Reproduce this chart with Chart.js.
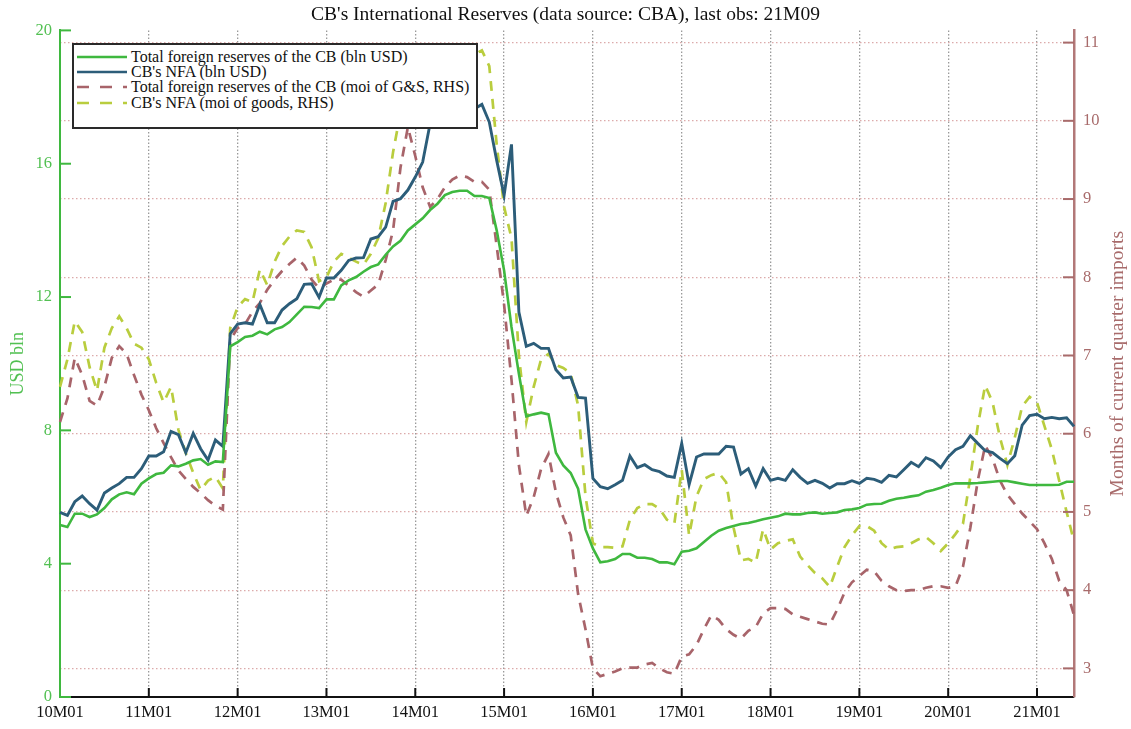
<!DOCTYPE html>
<html lang="en">
<head>
  <meta charset="UTF-8">
  <title>CB's International Reserves</title>
  <script src="https://cdn.jsdelivr.net/npm/chart.js"></script>
  <style>
    html, body { margin: 0; padding: 0; background: #fff; }
    #wrap { position: relative; width: 1131px; height: 729px; }
    #legend {
      position: absolute; left: 72px; top: 43px;
      width: 402px; height: 78px; padding-top: 4px;
      border: 2px solid #2a2a2a; background: #fff;
      font-family: 'Liberation Serif', 'Times New Roman', serif;
      font-size: 16px; color: #111;
    }
    .row { display: flex; align-items: center; height: 15.4px; white-space: nowrap; }
    .row svg { margin-left: 3px; margin-right: 4px; flex: none; }
  </style>
</head>
<body>
<div id="wrap">
  <canvas id="reservesChart" width="1131" height="729"></canvas>
  <div id="legend"></div>
</div>

<script>
  // monthly data, 10M01 .. 21M06
  const years = ['10', '11', '12', '13', '14', '15', '16', '17', '18', '19', '20', '21'];
  const monthNums = ['01', '02', '03', '04', '05', '06', '07', '08', '09', '10', '11', '12'];
  const months = years.flatMap(y => monthNums.map(m => y + 'M' + m)).slice(0, 138);

  const leftTicks = [0, 4, 8, 12, 16, 20];
  const rightTicks = [3, 4, 5, 6, 7, 8, 9, 10, 11];

  // Total foreign reserves of the CB, bln USD
  const reservesUsd = [
    5.16, 5.1, 5.5, 5.5, 5.4, 5.48, 5.67, 5.93, 6.08, 6.14, 6.08, 6.4,
    6.56, 6.69, 6.73, 6.95, 6.92, 7.0, 7.1, 7.14, 6.97, 7.07, 7.05, 10.52,
    10.65, 10.8, 10.84, 10.96, 10.88, 11.03, 11.1, 11.25, 11.48, 11.71, 11.7, 11.67,
    11.93, 11.93, 12.35, 12.5, 12.6, 12.76, 12.9, 12.98, 13.27, 13.52, 13.69, 14.0,
    14.18, 14.36, 14.61, 14.8, 15.06, 15.15, 15.19, 15.19, 15.03, 15.03, 14.97, 14.0,
    12.8, 11.1, 9.7, 8.42, 8.48, 8.53, 8.48, 7.33, 6.95, 6.72, 6.25, 5.03,
    4.46, 4.04, 4.07, 4.14, 4.29, 4.29, 4.18, 4.18, 4.14, 4.04, 4.04, 3.98,
    4.36, 4.39, 4.46, 4.65, 4.84, 4.99, 5.07, 5.13, 5.19, 5.22, 5.27, 5.33,
    5.38, 5.42, 5.5, 5.48, 5.48, 5.52, 5.54, 5.5, 5.52, 5.54, 5.61, 5.63,
    5.67, 5.77, 5.79, 5.8, 5.89, 5.95, 5.98, 6.02, 6.05, 6.16, 6.21, 6.28,
    6.36, 6.41, 6.41, 6.41, 6.42, 6.44, 6.46, 6.48, 6.48, 6.44, 6.4, 6.36,
    6.36, 6.36, 6.36, 6.37, 6.46, 6.46
  ];

  // CB's NFA, bln USD
  const nfaUsd = [
    5.54, 5.45, 5.86, 6.03, 5.8, 5.61, 6.12, 6.27, 6.4, 6.59, 6.59, 6.85,
    7.23, 7.23, 7.36, 7.97, 7.87, 7.33, 7.91, 7.45, 7.11, 7.71, 7.52, 10.9,
    11.19, 11.23, 11.19, 11.78, 11.23, 11.23, 11.61, 11.8, 11.95, 12.38, 12.4, 11.99,
    12.57, 12.57, 12.8, 13.1, 13.17, 13.18, 13.74, 13.81, 14.1, 14.87, 14.95, 15.21,
    15.6, 16.05, 17.2, 17.5, 17.75, 17.9, 17.9, 17.8, 17.65, 17.78, 17.25, 16.1,
    15.05, 16.58, 11.55, 10.52, 10.61, 10.46, 10.46, 9.82, 9.57, 9.6, 8.99, 8.97,
    6.56, 6.31, 6.25, 6.37, 6.5, 7.23, 6.88, 6.97, 6.82, 6.76, 6.63, 6.59,
    7.61, 6.37, 7.2, 7.29, 7.29, 7.29, 7.52, 7.5, 6.69, 6.85, 6.33, 6.85,
    6.5, 6.56, 6.5, 6.82, 6.59, 6.41, 6.5, 6.41, 6.27, 6.4, 6.4, 6.49,
    6.41, 6.56, 6.53, 6.44, 6.65, 6.6, 6.82, 7.04, 6.91, 7.18, 7.08, 6.88,
    7.2, 7.42, 7.52, 7.84, 7.61, 7.39, 7.33, 7.16, 7.0, 7.24, 8.16, 8.44,
    8.48, 8.35, 8.39, 8.35, 8.38, 8.12
  ];

  // Total foreign reserves of the CB, months of imports of G&S (RHS)
  const reservesMoi = [
    6.15, 6.45, 6.97, 6.75, 6.42, 6.36, 6.6, 6.97, 7.12, 7.02, 6.75, 6.5,
    6.3, 6.07, 5.88, 5.7, 5.53, 5.42, 5.32, 5.24, 5.15, 5.08, 5.03, 7.2,
    7.35, 7.4, 7.56, 7.67, 7.84, 7.97, 8.08, 8.17, 8.25, 8.15, 7.97, 7.86,
    7.92, 7.97, 7.97, 7.89, 7.81, 7.75, 7.83, 7.91, 8.22, 8.6, 9.4, 9.92,
    9.55, 9.15, 8.9, 9.0, 9.15, 9.25, 9.3, 9.28, 9.22, 9.22, 9.12, 8.4,
    7.65, 6.69, 5.6, 4.95, 5.19, 5.55, 5.74, 5.25, 4.93, 4.7, 3.95, 3.5,
    3.0, 2.9, 2.93, 2.96, 3.0, 3.01, 3.01, 3.05, 3.07, 3.0, 2.95, 2.93,
    3.15, 3.18, 3.3, 3.5, 3.68, 3.62, 3.5, 3.43, 3.38, 3.48, 3.53, 3.7,
    3.77, 3.77, 3.76, 3.69, 3.66, 3.63, 3.6, 3.57, 3.56, 3.75, 3.97, 4.1,
    4.18, 4.26, 4.24, 4.12, 4.05, 4.0, 3.99, 4.0, 4.0, 4.03, 4.05, 4.05,
    4.03, 4.05, 4.3, 4.8, 5.4, 5.85, 5.68, 5.4, 5.22, 5.1, 4.98, 4.88,
    4.78, 4.6, 4.4, 4.12, 4.0, 3.68
  ];

  // CB's NFA, months of imports of goods (RHS)
  const nfaMoi = [
    6.6, 6.95, 7.44, 7.3, 6.85, 6.55, 7.1, 7.35, 7.5, 7.35, 7.15, 7.1,
    6.95, 6.65, 6.4, 6.6, 6.05, 5.75, 5.5, 5.28, 5.4, 5.45, 5.3, 7.35,
    7.62, 7.72, 7.68, 8.1, 7.9, 8.2, 8.4, 8.52, 8.6, 8.58, 8.38, 7.95,
    8.0, 8.2, 8.3, 8.25, 8.2, 8.16, 8.3, 8.5, 8.95, 9.6, 10.1, 10.6,
    10.45, 10.25, 10.35, 10.55, 10.7, 10.8, 10.85, 10.85, 10.85, 10.9, 10.7, 9.7,
    8.9, 8.5, 7.0, 6.15, 6.6, 6.95, 7.02, 6.88, 6.84, 6.77, 6.36, 5.2,
    4.6, 4.55, 4.55, 4.54, 4.56, 4.9, 5.05, 5.1, 5.1, 5.04, 4.9, 4.85,
    5.54, 4.7, 5.2, 5.42, 5.47, 5.5, 5.38, 4.8, 4.38, 4.4, 4.35, 4.78,
    4.52, 4.6, 4.63, 4.65, 4.43, 4.32, 4.22, 4.15, 4.04, 4.3, 4.55, 4.7,
    4.82, 4.82, 4.76, 4.6, 4.52, 4.55, 4.56, 4.6, 4.65, 4.68, 4.6, 4.5,
    4.6, 4.72, 4.85, 5.45, 6.1, 6.62, 6.4, 5.95, 5.6, 5.95, 6.35, 6.47,
    6.4, 6.1, 5.8, 5.4, 5.0, 4.62
  ];

  const GREEN = '#3fb83f';
  const GREEN_TEXT = '#52c052';
  const BLUE = '#2c5d79';
  const RED = '#a8646a';
  const YELLOW = '#b9cd3e';
  const RHS = '#a86b6b';
  const serif = "'Liberation Serif', 'Times New Roman', serif";
  const isJan = i => months[i] && months[i].endsWith('M01');

  // tick marks drawn inside the plot box, plus the right axis title (reads upwards)
  const innerTicks = {
    id: 'innerTicks',
    afterDraw(chart) {
      const { ctx, chartArea: a, scales } = chart;
      const line = (x1, y1, x2, y2) => { ctx.beginPath(); ctx.moveTo(x1, y1); ctx.lineTo(x2, y2); ctx.stroke(); };
      ctx.save();
      ctx.lineWidth = 2;
      ctx.strokeStyle = GREEN;
      leftTicks.forEach(v => { const y = scales.y.getPixelForValue(v); line(a.left, y, a.left + 11, y); });
      ctx.strokeStyle = RHS;
      rightTicks.forEach(v => { const y = scales.y1.getPixelForValue(v); line(a.right - 11, y, a.right, y); });
      ctx.strokeStyle = '#111';
      months.forEach((m, i) => {
        if (!isJan(i) || i === 0) return;
        const x = scales.x.getPixelForValue(i);
        line(x, a.bottom, x, a.bottom - 9);
      });
      ctx.translate(1118, (a.top + a.bottom) / 2);
      ctx.rotate(-Math.PI / 2);
      ctx.fillStyle = RHS;
      ctx.font = '19.5px ' + serif;
      ctx.textAlign = 'center';
      ctx.textBaseline = 'middle';
      ctx.fillText('Months of current quarter imports', 0, 0);
      ctx.restore();
    }
  };

  const ctx = document.getElementById('reservesChart').getContext('2d');
  const chart = new Chart(ctx, {
    type: 'line',
    data: {
      labels: months,
      datasets: [
        { label: 'Total foreign reserves of the CB (bln USD)', data: reservesUsd, borderColor: GREEN, borderWidth: 2.6, yAxisID: 'y' },
        { label: "CB's NFA (bln USD)", data: nfaUsd, borderColor: BLUE, borderWidth: 2.9, yAxisID: 'y' },
        { label: 'Total foreign reserves of the CB (moi of G&S, RHS)', data: reservesMoi, borderColor: RED, borderWidth: 2.7, borderDash: [10, 8], yAxisID: 'y1' },
        { label: "CB's NFA (moi of goods, RHS)", data: nfaMoi, borderColor: YELLOW, borderWidth: 2.7, borderDash: [10, 8], yAxisID: 'y1' }
      ]
    },
    options: {
      responsive: false,
      animation: false,
      elements: { point: { radius: 0 }, line: { tension: 0 } },
      layout: { padding: 0 },
      plugins: {
        legend: { display: false },
        tooltip: { enabled: false },
        title: {
          display: true,
          text: "CB's International Reserves (data source: CBA), last obs: 21M09",
          color: '#111',
          font: { family: serif, size: 19.5, weight: 'normal' },
          padding: { top: 3, bottom: 4 }
        }
      },
      scales: {
        x: {
          offset: false,
          grid: {
            color: c => isJan(c.index) ? '#9a9a9a' : 'rgba(0,0,0,0)',
            lineWidth: 1.3,
            drawTicks: false
          },
          border: { color: '#111', width: 2, dash: [1.5, 2] },
          ticks: {
            autoSkip: false, maxRotation: 0, padding: 6, color: '#111',
            font: { family: serif, size: 16.5 },
            callback: (v, i) => isJan(i) ? months[i] : ''
          },
          afterFit: s => { s.height = 32; }
        },
        y: {
          position: 'left',
          min: 0, max: 20,
          afterBuildTicks: s => { s.ticks = leftTicks.map(v => ({ value: v })); },
          ticks: { color: GREEN_TEXT, padding: 8, font: { family: serif, size: 16.5 } },
          grid: { drawOnChartArea: false, drawTicks: false },
          border: { color: GREEN, width: 2 },
          title: { display: true, text: 'USD bln', color: GREEN_TEXT, font: { family: serif, size: 18 }, padding: { top: 7, bottom: 0 } },
          afterFit: s => { s.width = 60; }
        },
        y1: {
          position: 'right',
          min: 2.634, max: 11.156,
          afterBuildTicks: s => { s.ticks = rightTicks.map(v => ({ value: v })); },
          ticks: { color: RHS, padding: 9, font: { family: serif, size: 16.5 } },
          grid: { color: '#dcaaaa', lineWidth: 1.2, drawTicks: false },
          border: { color: '#b27878', width: 2.5, dash: [1.5, 2.5] },
          afterFit: s => { s.width = 57; }
        }
      }
    },
    plugins: [innerTicks]
  });

  // legend box in the upper left corner of the plot
  const legend = document.getElementById('legend');
  chart.data.datasets.forEach(ds => {
    const dash = ds.borderDash ? 'stroke-dasharray="12 11"' : '';
    legend.insertAdjacentHTML('beforeend',
      '<div class="row"><svg width="50" height="6"><line x1="0" y1="3" x2="50" y2="3" stroke="' + ds.borderColor +
      '" stroke-width="2.6" ' + dash + '/></svg><span>' + ds.label.replace('&', '&amp;') + '</span></div>');
  });
</script>
</body>
</html>
